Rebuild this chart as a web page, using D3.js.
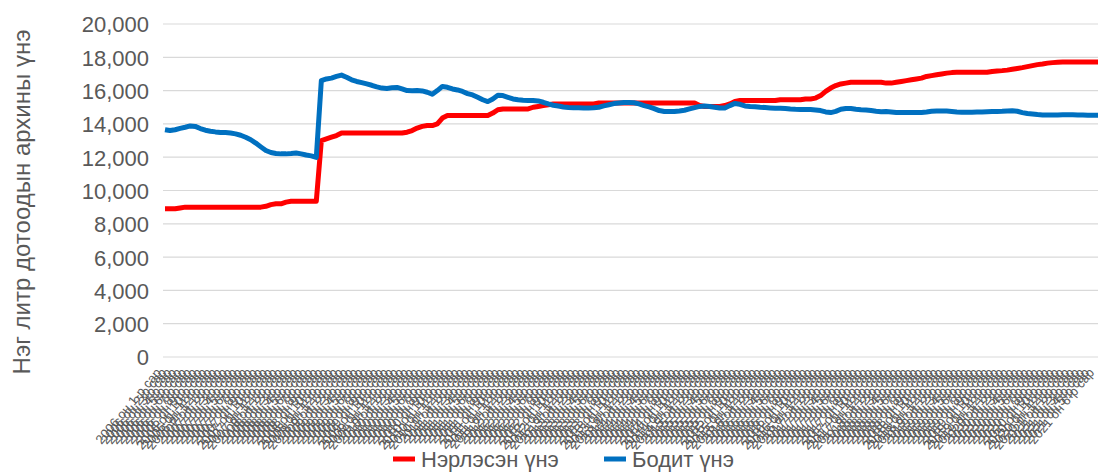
<!DOCTYPE html>
<html>
<head>
<meta charset="utf-8">
<script src="https://cdn.jsdelivr.net/npm/d3@7"></script>
<style>
  body { margin: 0; background: #fff; }
  svg { display: block; font-family: "Liberation Sans", Arial, sans-serif; }
</style>
</head>
<body>
<svg id="chart" width="1098" height="474"></svg>
<script>
// months shown on the category axis
var years = [2006, 2007, 2008, 2009, 2010, 2011, 2012, 2013, 2014, 2015, 2016, 2017, 2018, 2019, 2020, 2021];
var months = [1, 2, 3, 4, 5, 6, 7, 8, 9, 10, 11, 12];
var yTicks = [0, 2000, 4000, 6000, 8000, 10000, 12000, 14000, 16000, 18000, 20000];

// Нэрлэсэн үнэ (nominal)
var nominal = [
  8900, 8900, 8900, 8950, 9000, 9000, 9000, 9000, 9000, 9000,
  9000, 9000, 9000, 9000, 9000, 9000, 9000, 9000, 9000, 9000,
  9050, 9150, 9200, 9200, 9300, 9350, 9350, 9350, 9350, 9350,
  9350, 13000, 13100, 13200, 13300, 13450, 13450, 13450, 13450, 13450,
  13450, 13450, 13450, 13450, 13450, 13450, 13450, 13450, 13500, 13600,
  13750, 13850, 13900, 13900, 14000, 14350, 14500, 14500, 14500, 14500,
  14500, 14500, 14500, 14500, 14500, 14650, 14850, 14900, 14900, 14900,
  14900, 14900, 14900, 15000, 15050, 15100, 15150, 15200, 15200, 15200,
  15200, 15200, 15200, 15200, 15200, 15200, 15250, 15250, 15250, 15250,
  15250, 15250, 15250, 15250, 15250, 15250, 15250, 15250, 15250, 15250,
  15250, 15250, 15250, 15250, 15250, 15250, 15100, 15050, 15050, 15050,
  15050, 15100, 15200, 15350, 15400, 15400, 15400, 15400, 15400, 15400,
  15400, 15400, 15450, 15450, 15450, 15450, 15450, 15500, 15500, 15550,
  15700, 15950, 16150, 16300, 16400, 16450, 16500, 16500, 16500, 16500,
  16500, 16500, 16500, 16450, 16450, 16500, 16550, 16600, 16650, 16700,
  16750, 16850, 16900, 16950, 17000, 17050, 17080, 17100, 17100, 17100,
  17100, 17100, 17100, 17100, 17150, 17180, 17200, 17230, 17280, 17330,
  17380, 17440, 17500, 17560, 17600, 17650, 17680, 17700, 17720, 17720,
  17720, 17720, 17720, 17720, 17720, 17720
];

// Бодит үнэ (real)
var real = [
  13650, 13600, 13650, 13730, 13800, 13880, 13850, 13720, 13620, 13560,
  13520, 13490, 13480, 13450, 13400, 13320, 13200, 13050, 12850, 12620,
  12400, 12280, 12220, 12200, 12200, 12220, 12250, 12200, 12130, 12080,
  11990, 16600, 16700, 16750, 16850, 16930, 16800, 16650, 16550, 16480,
  16400, 16320, 16220, 16150, 16130, 16170, 16190, 16100, 16000, 15990,
  16000, 15980, 15900, 15780, 16000, 16250, 16200, 16100, 16040, 15950,
  15820, 15740, 15600, 15450, 15340, 15500, 15720, 15700, 15600, 15500,
  15450, 15420, 15410, 15400, 15380, 15300, 15200, 15120, 15070, 15020,
  14990, 14970, 14970, 14960, 14960, 14970, 15000, 15080, 15150, 15220,
  15260, 15280, 15290, 15270, 15200, 15100, 15020, 14920, 14800, 14750,
  14740, 14750, 14780, 14820, 14900, 14980, 15050, 15080, 15050, 15000,
  14950, 14960, 15100, 15230, 15180, 15080, 15040, 15030, 15000, 14980,
  14960, 14940, 14940, 14930, 14900, 14880, 14870, 14870, 14860, 14840,
  14800, 14720, 14680, 14750, 14880, 14930, 14920, 14880, 14850, 14830,
  14800, 14760, 14730, 14740, 14720, 14690, 14680, 14680, 14680, 14680,
  14690, 14720, 14760, 14770, 14780, 14770, 14750, 14720, 14700, 14700,
  14700, 14710, 14720, 14730, 14740, 14750, 14760, 14780, 14790, 14760,
  14680, 14620, 14590, 14560, 14540, 14530, 14530, 14540, 14550, 14550,
  14550, 14540, 14530, 14520, 14520, 14520
];

var categories = [];
years.forEach(function(y){
  months.forEach(function(m){
    if (categories.length < nominal.length) categories.push(y + " он " + m + "-р сар");
  });
});

var series = [
  {name: "Нэрлэсэн үнэ", color: "#FF0000", values: nominal},
  {name: "Бодит үнэ", color: "#0070C0", values: real}
];

var margin = {top: 24, right: 0, bottom: 117, left: 165},
    width = 1098 - margin.left - margin.right,
    height = 474 - margin.top - margin.bottom;

var svg = d3.select("#chart");

var x = d3.scalePoint().domain(categories).range([0, width]);
var y = d3.scaleLinear().domain([0, 20000]).range([height, 0]);

var g = svg.append("g").attr("transform", "translate(" + margin.left + "," + margin.top + ")");

// gridlines
g.append("g")
  .selectAll("line")
  .data(yTicks)
  .join("line")
  .attr("x1", -2).attr("x2", width)
  .attr("y1", d => y(d)).attr("y2", d => y(d))
  .attr("stroke", "#D9D9D9")
  .attr("stroke-width", 1.2);

// y axis labels
var yAxis = g.append("g")
  .call(d3.axisLeft(y).tickValues(yTicks).tickSize(0).tickPadding(16).tickFormat(d3.format(",")));
yAxis.select(".domain").remove();
yAxis.selectAll("text")
  .attr("fill", "#595959")
  .style("font-size", "22px")
  .attr("dy", "0.36em");

// x axis labels (dense, rotated)
var xAxis = g.append("g")
  .attr("transform", "translate(0," + height + ")")
  .call(d3.axisBottom(x).tickSize(0).tickPadding(0));
xAxis.select(".domain").remove();
xAxis.selectAll("text")
  .attr("fill", "#595959")
  .style("font-size", "13px")
  .attr("text-anchor", "end")
  .attr("dy", "0.35em")
  .attr("transform", "translate(-7,13) rotate(-50)");

// y axis title
svg.append("text")
  .attr("transform", "translate(30,202) rotate(-90)")
  .attr("text-anchor", "middle")
  .attr("fill", "#595959")
  .style("font-size", "24px")
  .text("Нэг литр дотоодын архины үнэ");

// lines
var line = d3.line()
  .x((d, i) => x(categories[i]))
  .y(d => y(d));

g.append("g")
  .selectAll("path")
  .data(series)
  .join("path")
  .attr("fill", "none")
  .attr("stroke", d => d.color)
  .attr("stroke-width", 5)
  .attr("stroke-linejoin", "round")
  .attr("d", d => line(d.values));

// legend
var legendX = [393, 604];
var legend = svg.append("g")
  .selectAll("g")
  .data(series)
  .join("g")
  .attr("transform", (d, i) => "translate(" + legendX[i] + ",459)");
legend.append("line")
  .attr("x1", 0).attr("x2", 22)
  .attr("stroke", d => d.color)
  .attr("stroke-width", 5);
legend.append("text")
  .attr("x", 28)
  .attr("dy", "0.36em")
  .attr("fill", "#595959")
  .style("font-size", "22px")
  .text(d => d.name);
</script>
</body>
</html>
